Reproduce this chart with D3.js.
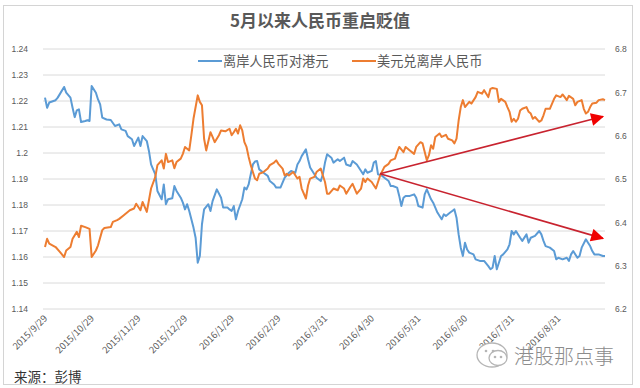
<!DOCTYPE html>
<html>
<head>
<meta charset="utf-8">
<script src="https://cdn.jsdelivr.net/npm/d3@7"></script>
<style>
  body { margin: 0; background: #fff; }
  svg { display: block; font-family: "Noto Sans CJK SC", "Noto Sans", sans-serif; }
</style>
</head>
<body>
<svg id="chart" width="640" height="388"></svg>
<script>
// day index (trading days from 2015/9/29), value
var cnhHkd = [
  [0,1.2213],[1,1.2174],[2,1.2194],[5,1.2203],[6,1.2213],[9,1.2254],[10,1.2232],[12,1.2213],
  [13,1.2174],[14,1.2138],[15,1.2164],[16,1.2168],[17,1.2119],[19,1.2123],[20,1.2126],[21,1.2123],
  [22,1.2258],[24,1.2232],[25,1.2206],[26,1.2187],[27,1.2136],[29,1.2129],[31,1.2127],[33,1.2104],
  [35,1.2110],[36,1.2091],[38,1.2085],[39,1.2065],[41,1.2053],[42,1.2027],[44,1.2059],[45,1.2027],
  [46,1.2065],[48,1.2046],[49,1.2008],[50,1.1956],[52,1.1918],[53,1.1854],[55,1.1822],[56,1.1879],
  [57,1.1803],[58,1.1822],[60,1.1826],[61,1.1873],[62,1.1854],[64,1.1828],[65,1.1809],[66,1.1783],
  [67,1.1803],[68,1.1777],[70,1.1713],[71,1.1674],[72,1.1578],[73,1.1604],[74,1.1726],[75,1.1783],
  [77,1.1803],[78,1.1777],[79,1.1815],[81,1.1860],[83,1.1828],[84,1.1790],[86,1.1790],[87,1.1783],
  [88,1.1777],[89,1.1796],[90,1.1745],[91,1.1777],[93,1.1822],[94,1.1867],[95,1.1860],[96,1.1879],
  [97,1.1918],[98,1.1956],[99,1.1967],[100,1.1969],[101,1.1937],[103,1.1924],[105,1.1912],[106,1.1892],
  [108,1.1879],[109,1.1867],[111,1.1867],[112,1.1886],[113,1.1905],[115,1.1924],[116,1.1931],[118,1.1924],
  [119,1.1956],[120,1.1969],[121,1.1988],[123,1.2014],[124,1.1976],[125,1.1944],[127,1.1918],[128,1.1905],
  [130,1.1892],[131,1.1918],[132,1.1963],[133,1.1995],[135,1.1982],[136,1.1963],[138,1.1976],[139,1.1969],
  [141,1.1982],[142,1.1956],[144,1.1950],[145,1.1969],[147,1.1956],[149,1.1931],[150,1.1918],[151,1.1937],
  [152,1.1924],[154,1.1931],[155,1.1963],[156,1.1969],[157,1.1918],[159,1.1912],[160,1.1905],[162,1.1892],
  [163,1.1873],[164,1.1873],[166,1.1867],[167,1.1835],[168,1.1796],[169,1.1828],[170,1.1835],[172,1.1835],
  [174,1.1841],[175,1.1828],[176,1.1796],[178,1.1790],[179,1.1841],[180,1.1860],[181,1.1841],[182,1.1822],
  [183,1.1809],[184,1.1790],[185,1.1771],[187,1.1745],[188,1.1764],[189,1.1758],[191,1.1771],[192,1.1777],
  [193,1.1783],[194,1.1751],[195,1.1687],[196,1.1636],[197,1.1604],[198,1.1655],[199,1.1629],[200,1.1617],
  [202,1.1610],[203,1.1591],[205,1.1585],[207,1.1585],[209,1.1565],[210,1.1553],[211,1.1559],[212,1.1604],
  [213,1.1553],[215,1.1604],[216,1.1610],[218,1.1629],[219,1.1649],[220,1.1700],[221,1.1687],[222,1.1700],
  [224,1.1674],[225,1.1662],[227,1.1687],[228,1.1655],[229,1.1674],[231,1.1681],[233,1.1700],[234,1.1687],
  [235,1.1662],[236,1.1642],[238,1.1636],[240,1.1623],[241,1.1591],[242,1.1597],[244,1.1591],[246,1.1597],
  [247,1.1585],[248,1.1610],[249,1.1623],[251,1.1597],[252,1.1604],[253,1.1636],[255,1.1668],[256,1.1655],
  [257,1.1642],[258,1.1623],[259,1.1610],[261,1.1610],[263,1.1604],[264,1.1604]
];

var usdCnh = [
  [0,6.343],[1,6.362],[2,6.351],[5,6.343],[7,6.332],[9,6.320],[10,6.335],[12,6.343],
  [13,6.362],[15,6.378],[16,6.366],[17,6.392],[19,6.389],[21,6.385],[22,6.320],[24,6.335],
  [25,6.347],[27,6.382],[28,6.387],[31,6.389],[32,6.401],[34,6.405],[35,6.408],[37,6.416],
  [39,6.424],[40,6.428],[42,6.432],[43,6.443],[45,6.428],[46,6.447],[48,6.424],[49,6.451],
  [50,6.478],[52,6.505],[53,6.532],[55,6.543],[56,6.524],[57,6.558],[58,6.539],[60,6.543],
  [61,6.525],[62,6.539],[64,6.547],[65,6.558],[66,6.574],[68,6.566],[69,6.601],[70,6.639],
  [72,6.693],[73,6.678],[74,6.670],[75,6.593],[76,6.566],[78,6.608],[79,6.597],[80,6.585],
  [82,6.601],[83,6.612],[85,6.610],[87,6.616],[88,6.601],[89,6.608],[90,6.616],[91,6.605],
  [92,6.624],[93,6.612],[94,6.585],[95,6.574],[96,6.551],[97,6.532],[98,6.516],[99,6.501],
  [100,6.497],[101,6.512],[103,6.516],[105,6.524],[106,6.532],[108,6.538],[109,6.543],[110,6.535],
  [112,6.524],[113,6.508],[114,6.512],[115,6.508],[117,6.516],[119,6.501],[120,6.505],[121,6.478],
  [123,6.455],[124,6.485],[125,6.501],[127,6.505],[128,6.516],[130,6.524],[131,6.508],[132,6.493],
  [133,6.466],[134,6.466],[136,6.478],[138,6.474],[139,6.485],[141,6.478],[142,6.466],[144,6.482],
  [145,6.489],[147,6.466],[149,6.478],[150,6.501],[151,6.493],[152,6.501],[154,6.493],[156,6.478],
  [157,6.493],[158,6.508],[160,6.528],[162,6.535],[163,6.543],[165,6.547],[166,6.562],[167,6.574],
  [169,6.562],[170,6.574],[172,6.566],[174,6.558],[175,6.574],[177,6.585],[178,6.582],[180,6.543],
  [181,6.555],[182,6.578],[183,6.570],[184,6.597],[186,6.605],[187,6.597],[189,6.602],[190,6.593],
  [192,6.589],[193,6.582],[194,6.593],[195,6.635],[196,6.666],[197,6.682],[198,6.666],[200,6.678],
  [201,6.674],[203,6.689],[204,6.701],[206,6.697],[207,6.705],[209,6.689],[210,6.708],[211,6.710],
  [213,6.708],[214,6.678],[215,6.685],[217,6.678],[218,6.666],[219,6.655],[220,6.632],[221,6.639],
  [222,6.632],[223,6.639],[224,6.658],[225,6.662],[227,6.666],[228,6.655],[229,6.651],[230,6.639],
  [231,6.643],[233,6.632],[234,6.635],[235,6.647],[236,6.662],[238,6.662],[240,6.685],[241,6.693],
  [243,6.689],[244,6.695],[245,6.689],[246,6.682],[247,6.692],[249,6.685],[250,6.670],[251,6.678],
  [253,6.682],[254,6.662],[255,6.651],[256,6.655],[257,6.666],[258,6.674],[260,6.676],[261,6.682],
  [263,6.684],[264,6.682]
];

var xLabels = ["2015/9/29","2015/10/29","2015/11/29","2015/12/29","2016/1/29","2016/2/29",
               "2016/3/31","2016/4/30","2016/5/31","2016/6/30","2016/7/31","2016/8/31"];
var leftTicks = [1.14,1.15,1.16,1.17,1.18,1.19,1.2,1.21,1.22,1.23,1.24];
var rightTicks = [6.2,6.3,6.4,6.5,6.6,6.7,6.8];
var seriesNames = ["离岸人民币对港元","美元兑离岸人民币"];
// trend arrows, in day / right-axis units
var trendArrows = [
  [[157.9,6.512],[263,6.644]],
  [[157.9,6.512],[263,6.363]]
];

var svg = d3.select("#chart");
var blue = "#5b9bd5", orange = "#ed7d31", grey = "#595959";

var x = d3.scaleLinear().domain([0, 264]).range([45, 605]);
var yL = d3.scaleLinear().domain([1.14, 1.24]).range([309, 49]);
var yR = d3.scaleLinear().domain([6.2, 6.8]).range([309, 49]);

// frame
svg.append("rect")
  .attr("x", 3.5).attr("y", 5.5).attr("width", 629).attr("height", 379)
  .attr("fill", "none").attr("stroke", "#d4d4d4");

// title
svg.append("text")
  .attr("x", 320).attr("y", 27)
  .attr("text-anchor", "middle")
  .attr("font-size", 17).attr("font-weight", "bold")
  .attr("fill", grey)
  .text("5月以来人民币重启贬值");

// grid + left axis
var leftAxis = d3.axisLeft(yL).tickValues(leftTicks).tickSize(0).tickPadding(0)
  .tickFormat(d3.format(""));
svg.append("g")
  .attr("transform", "translate(28,0)")
  .call(leftAxis)
  .call(g => g.select(".domain").remove())
  .selectAll("text").attr("font-size", 8.5).attr("fill", grey).attr("dy", "0.32em");

svg.append("g")
  .selectAll("line")
  .data(leftTicks)
  .join("line")
    .attr("x1", x(0) - 2).attr("x2", x(264))
    .attr("y1", d => yL(d)).attr("y2", d => yL(d))
    .attr("stroke", "#dadada").attr("stroke-width", 1);

var rightAxis = d3.axisRight(yR).tickValues(rightTicks).tickSize(0).tickPadding(0)
  .tickFormat(d3.format(""));
svg.append("g")
  .attr("transform", "translate(615,0)")
  .call(rightAxis)
  .call(g => g.select(".domain").remove())
  .selectAll("text").attr("font-size", 8.5).attr("fill", grey);

// x labels
svg.append("g")
  .selectAll("text")
  .data(xLabels)
  .join("text")
    .attr("transform", (d, i) => "translate(" + (x(i * 22) + 3) + ",319) rotate(-45)")
    .attr("text-anchor", "end")
    .attr("font-size", 9.5)
    .attr("fill", grey)
    .text(d => d);

// lines
var lineL = d3.line().x(d => x(d[0])).y(d => yL(d[1]));
var lineR = d3.line().x(d => x(d[0])).y(d => yR(d[1]));

svg.append("path").datum(cnhHkd)
  .attr("d", lineL).attr("fill", "none").attr("stroke", blue)
  .attr("stroke-width", 2).attr("stroke-linejoin", "round");
svg.append("path").datum(usdCnh)
  .attr("d", lineR).attr("fill", "none").attr("stroke", orange)
  .attr("stroke-width", 2).attr("stroke-linejoin", "round");

// arrows
svg.append("defs").append("marker")
  .attr("id", "head")
  .attr("viewBox", "0 0 10 10")
  .attr("refX", 9).attr("refY", 5)
  .attr("markerWidth", 16).attr("markerHeight", 13)
  .attr("markerUnits", "userSpaceOnUse")
  .attr("orient", "auto")
  .append("path").attr("d", "M0,0L10,5L0,10Z").attr("fill", "#f00000");

svg.append("g")
  .selectAll("line")
  .data(trendArrows)
  .join("line")
    .attr("x1", d => x(d[0][0])).attr("y1", d => yR(d[0][1]))
    .attr("x2", d => x(d[1][0])).attr("y2", d => yR(d[1][1]))
    .attr("stroke", "#c8232f").attr("stroke-width", 1.6)
    .attr("marker-end", "url(#head)");

// legend
var legend = svg.append("g");
[[198, 223, blue], [352, 377, orange]].forEach(function(p, i) {
  legend.append("line")
    .attr("x1", p[0]).attr("x2", p[1] - 1).attr("y1", 61).attr("y2", 61)
    .attr("stroke", p[2]).attr("stroke-width", 2);
  legend.append("text")
    .attr("x", p[1]).attr("y", 66)
    .attr("font-size", 13.2).attr("fill", grey)
    .text(seriesNames[i]);
});

// source
svg.append("text")
  .attr("x", 14).attr("y", 382)
  .attr("font-size", 13.5).attr("fill", "#333")
  .text("来源：彭博");

// watermark
var wm = svg.append("g").attr("transform", "translate(492,355)");
wm.append("ellipse").attr("rx", 15).attr("ry", 12)
  .attr("fill", "#fff").attr("stroke", "#b5b5b5").attr("stroke-width", 1.3);
wm.append("ellipse").attr("cx", 6).attr("cy", 3).attr("rx", 9).attr("ry", 7.5)
  .attr("fill", "#fff").attr("stroke", "#b5b5b5").attr("stroke-width", 1.3);
[[-6,-4],[1,-4],[3,2],[9,2]].forEach(function(p) {
  wm.append("circle").attr("cx", p[0]).attr("cy", p[1]).attr("r", 1.3).attr("fill", "#b5b5b5");
});
svg.append("text")
  .attr("x", 514).attr("y", 364)
  .attr("font-size", 20).attr("fill", "#8c8c8c")
  .attr("font-weight", 300)
  .text("港股那点事");
</script>
</body>
</html>
